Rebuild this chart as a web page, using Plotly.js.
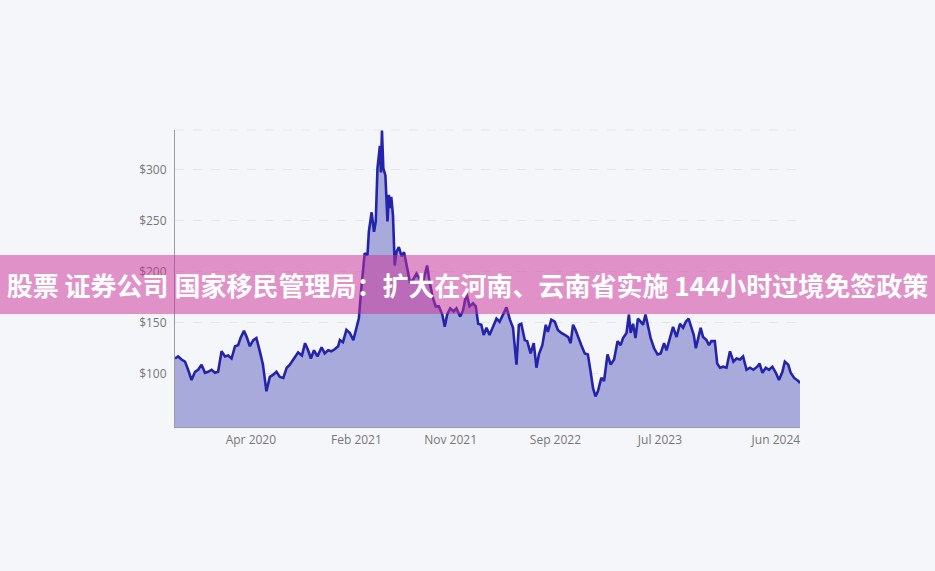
<!DOCTYPE html>
<html>
<head>
<meta charset="utf-8">
<script src="https://cdn.plot.ly/plotly-3.0.1.min.js"></script>
<style>
  html, body { margin: 0; padding: 0; background: #f5f6fa; }
  #wrap { position: relative; width: 935px; height: 571px; overflow: hidden; }
  #chart { width: 935px; height: 571px; }
  #banner {
    position: absolute; left: 0; top: 255px; width: 935px; height: 59px;
    background: rgba(203, 46, 150, 0.5);
    color: #ffffff; font-family: "Noto Sans CJK SC", "Noto Sans", sans-serif;
    font-weight: 700; font-size: 26px; line-height: 59px; text-align: center;
    white-space: nowrap; pointer-events: none;
  }
</style>
</head>
<body>
<div id="wrap">
  <div id="chart"></div>
  <div id="banner">股票 证券公司 国家移民管理局：扩大在河南、云南省实施 144小时过境免签政策</div>
</div>
<script>
const dates = [
  '2019-08-25','2019-09-03','2019-09-13','2019-09-23','2019-10-02','2019-10-12','2019-10-22','2019-10-31',
  '2019-11-10','2019-11-20','2019-11-29','2019-12-09','2019-12-19','2019-12-28','2020-01-07','2020-01-17',
  '2020-01-26','2020-02-05','2020-02-15','2020-02-24','2020-03-02','2020-03-12','2020-03-20','2020-03-29',
  '2020-04-08','2020-04-17','2020-04-27','2020-05-06','2020-05-16','2020-05-26','2020-06-04','2020-06-14',
  '2020-06-24','2020-07-04','2020-07-14','2020-07-23','2020-08-04','2020-08-16','2020-08-27','2020-09-05',
  '2020-09-14','2020-09-22','2020-10-01','2020-10-11','2020-10-23','2020-11-01','2020-11-11','2020-11-20',
  '2020-11-30','2020-12-10','2020-12-15','2020-12-24','2021-01-03','2021-01-13','2021-01-23','2021-02-01',
  '2021-02-08','2021-02-16','2021-02-25','2021-03-05','2021-03-09','2021-03-17','2021-03-24','2021-03-29',
  '2021-04-03','2021-04-10','2021-04-13','2021-04-16','2021-04-20','2021-04-26','2021-05-02','2021-05-06',
  '2021-05-09','2021-05-13','2021-05-18','2021-05-23','2021-05-28','2021-06-04','2021-06-12','2021-06-19',
  '2021-06-26','2021-07-06','2021-07-15','2021-07-25','2021-08-03','2021-08-13','2021-08-25','2021-09-01',
  '2021-09-11','2021-09-19','2021-09-28','2021-10-08','2021-10-15','2021-10-22','2021-10-31','2021-11-10',
  '2021-11-18','2021-11-29','2021-12-07','2021-12-17','2021-12-26','2022-01-05','2022-01-13','2022-01-20',
  '2022-01-29','2022-02-05','2022-02-13','2022-02-22','2022-03-04','2022-03-14','2022-03-23','2022-04-02',
  '2022-04-12','2022-04-22','2022-05-01','2022-05-11','2022-05-18','2022-05-25','2022-06-04','2022-06-11',
  '2022-06-21','2022-06-30','2022-07-08','2022-07-15','2022-07-25','2022-08-04','2022-08-10','2022-08-20',
  '2022-08-30','2022-09-08','2022-09-18','2022-09-28','2022-10-08','2022-10-15','2022-10-22','2022-10-29',
  '2022-11-05','2022-11-15','2022-11-25','2022-12-04','2022-12-12','2022-12-19','2022-12-26','2023-01-02',
  '2023-01-12','2023-01-20','2023-01-30','2023-02-08','2023-02-18','2023-02-28','2023-03-09','2023-03-16',
  '2023-03-26','2023-04-02','2023-04-07','2023-04-14','2023-04-21','2023-04-28','2023-05-06','2023-05-13',
  '2023-05-20','2023-05-27','2023-06-04','2023-06-14','2023-06-24','2023-07-03','2023-07-13','2023-07-20',
  '2023-07-30','2023-08-08','2023-08-18','2023-08-28','2023-09-06','2023-09-14','2023-09-22','2023-09-30',
  '2023-10-07','2023-10-13','2023-10-20','2023-10-27','2023-11-03','2023-11-13','2023-11-20','2023-11-27',
  '2023-12-07','2023-12-14','2023-12-22','2023-12-31','2024-01-10','2024-01-20','2024-01-30','2024-02-08',
  '2024-02-18','2024-02-27','2024-03-08','2024-03-18','2024-03-28','2024-04-08','2024-04-15','2024-04-23',
  '2024-05-03','2024-05-12','2024-05-22','2024-06-01','2024-06-10','2024-06-20','2024-06-27','2024-07-07',
  '2024-07-14','2024-07-24','2024-08-05','2024-08-10'
];
const prices = [
  115,117,114,112,104,94,102,104,
  109,101,102,104,101,102,122,117,
  118,115,127,128,135,142,136,127,
  133,135,122,109,83,97,99,102,
  97,96,106,109,115,121,118,130,
  123,115,123,117,126,120,123,122,
  124,127,133,131,143,140,133,144,
  154,187,218,216,239,258,239,249,
  301,323,297,338,301,294,249,275,
  262,273,255,206,219,224,215,219,
  206,190,192,198,193,190,206,190,
  174,166,166,158,146,158,164,161,
  164,156,162,179,166,169,166,149,
  148,138,145,138,146,154,151,158,
  165,153,145,109,148,149,133,132,
  120,130,106,119,128,148,141,153,
  151,143,140,138,136,130,148,143,
  136,128,120,119,102,86,78,83,
  96,93,119,109,114,132,128,135,
  140,158,140,149,135,154,151,148,
  158,148,135,125,119,120,130,123,
  135,146,136,149,145,151,154,145,
  138,125,136,145,136,133,128,132,
  132,110,106,107,106,122,112,115,
  114,117,104,106,104,107,110,101,
  106,104,107,101,94,102,112,109,
  101,96,93,91
];
const tickDates = ['2020-04-01','2021-02-01','2021-11-01','2022-09-01','2023-07-01','2024-06-01'];
const tickLabels = ['Apr 2020','Feb 2021','Nov 2021','Sep 2022','Jul 2023','Jun 2024'];
const yTickVals = [100,150,200,250,300];
const yTickLabels = ['$100','$150','$200','$250','$300'];

const trace = {
  x: dates, y: prices, type: 'scatter', mode: 'lines',
  fill: 'tozeroy', fillcolor: '#a9aadc',
  line: {color: '#2424ab', width: 2.6, shape: 'linear'},
  hoverinfo: 'skip'
};
const layout = {
  width: 935, height: 571,
  margin: {l: 175, r: 135, t: 130, b: 144},
  paper_bgcolor: '#f5f6fa', plot_bgcolor: '#f5f6fa',
  showlegend: false,
  font: {family: 'Open Sans, sans-serif', size: 12, color: '#777'},
  xaxis: {
    type: 'date', range: [dates[0], dates[dates.length - 1]],
    tickvals: tickDates, ticktext: tickLabels,
    showgrid: false, zeroline: false, showline: true, linecolor: '#9a9aa2', linewidth: 1,
    ticks: '', ticklabelstandoff: 2,
    tickfont: {family: 'Open Sans, sans-serif', size: 12, color: '#777'}
  },
  yaxis: {
    range: [48, 338.5],
    tickvals: yTickVals, ticktext: yTickLabels,
    showgrid: true, gridcolor: '#e4e5ec', griddash: 'dash', gridwidth: 1,
    zeroline: false, showline: true, linecolor: '#9a9aa2', linewidth: 1,
    ticks: '', ticklabelstandoff: 5,
    tickfont: {family: 'Open Sans, sans-serif', size: 12, color: '#777'}
  },
  shapes: [{
    type: 'line', xref: 'paper', yref: 'paper', x0: 0, x1: 1, y0: 1, y1: 1,
    line: {color: '#e4e5ec', width: 1, dash: 'dash'}, layer: 'below'
  }]
};
Plotly.newPlot('chart', [trace], layout, {displayModeBar: false, staticPlot: true});
</script>
</body>
</html>
